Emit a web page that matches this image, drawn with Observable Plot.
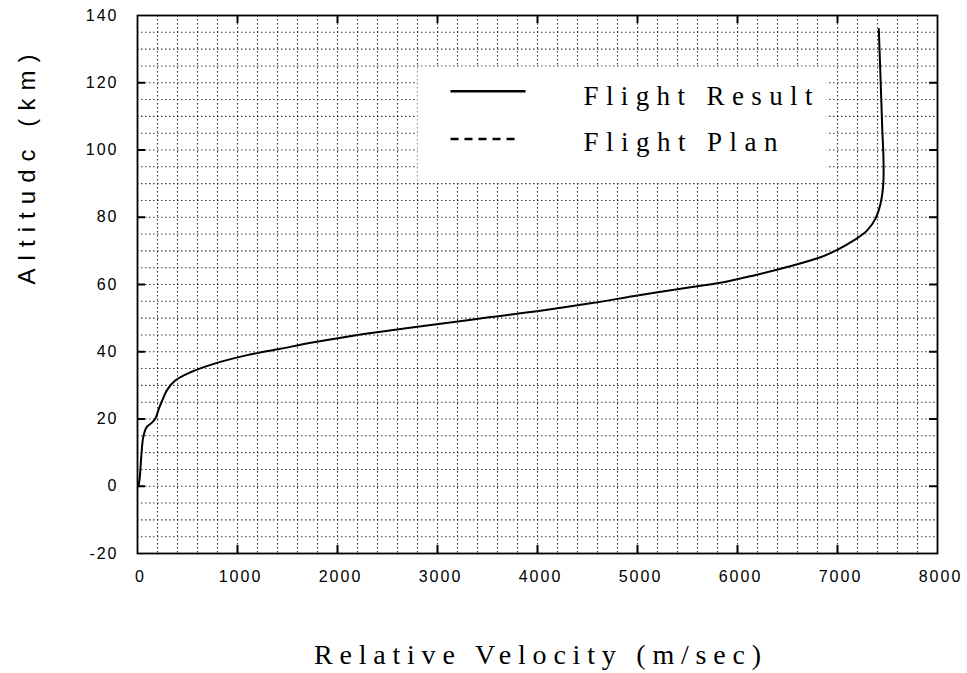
<!DOCTYPE html>
<html>
<head>
<meta charset="utf-8">
<script src="https://cdn.jsdelivr.net/npm/d3@7"></script>
<script src="https://cdn.jsdelivr.net/npm/@observablehq/plot@0.6"></script>
<style>
  html, body { margin: 0; padding: 0; background: #fff; }
</style>
</head>
<body>
<div id="chart"></div>
<script>
// Flight Result: relative velocity (m/sec) vs altitude (km)
const velocity = [10, 23, 37, 57, 90, 147, 180, 213, 247, 300, 380, 530, 763, 1097, 1430, 1763, 2263, 2763, 3030, 3530, 4030, 4530, 5030, 5530, 5830, 6163, 6497, 6830, 6997, 7163, 7297, 7380, 7430, 7458, 7460, 7447, 7430, 7413];
const altitude = [0, 2.7, 8.6, 14.5, 17.5, 19.0, 20.2, 23.0, 25.5, 28.8, 31.5, 33.9, 36.4, 39.0, 40.9, 42.8, 45.3, 47.3, 48.3, 50.3, 52.2, 54.4, 56.9, 59.2, 60.5, 62.7, 65.2, 68.1, 70.3, 73.1, 76.1, 79.6, 84.0, 90.0, 97.0, 106.8, 121.7, 136.0];

const xTicks = [0, 1000, 2000, 3000, 4000, 5000, 6000, 7000, 8000];
const yTicks = [-20, 0, 20, 40, 60, 80, 100, 120, 140];
const xGrid = d3.range(200, 8000, 200);
const yGrid = d3.range(-15, 140, 5);

const xTitle = "Relative Velocity (m/sec)";
const yTitle = "Altitudc (km)";
const legendLabels = ["Flight Result", "Flight Plan"];

const curve = velocity.map((v, i) => ({v, h: altitude[i]}));

const gridStyle = {stroke: "#222", strokeWidth: 1.1, strokeDasharray: "1.5,2.5", strokeOpacity: 0.9};

const svg = Plot.plot({
  width: 967,
  height: 673,
  marginLeft: 137,
  marginRight: 30,
  marginTop: 15,
  marginBottom: 120,
  x: {domain: [0, 8000]},
  y: {domain: [-20, 140]},
  style: {background: "white", color: "black"},
  marks: [
    Plot.ruleX(xGrid, gridStyle),
    Plot.ruleY(yGrid, gridStyle),
    // legend box
    Plot.rect([0], {x1: 2805, x2: 6895, y1: 90.4, y2: 124.6, fill: "white"}),
    Plot.link([0], {x1: 3130, x2: 3880, y1: 117.5, y2: 117.5, stroke: "#000", strokeWidth: 2.5}),
    Plot.link([0], {x1: 3130, x2: 3800, y1: 103.3, y2: 103.3, stroke: "#000", strokeWidth: 2.5, strokeDasharray: "8,6"}),
    Plot.text([legendLabels[0]], {x: 4460, y: 116.0, text: d => d, textAnchor: "start", fontSize: 27, fontFamily: "Liberation Serif", fill: "#000"}),
    Plot.text([legendLabels[1]], {x: 4460, y: 102.2, text: d => d, textAnchor: "start", fontSize: 27, fontFamily: "Liberation Serif", fill: "#000"}),
    // data
    Plot.line(curve, {x: "v", y: "h", stroke: "#000", strokeWidth: 2, curve: "catmull-rom"}),
    // frame and inward ticks
    Plot.frame({stroke: "#000", strokeWidth: 1.8}),
    Plot.ruleX(xTicks.slice(1, -1), {insetTop: 530, stroke: "#000", strokeWidth: 2}),
    Plot.ruleX(xTicks.slice(1, -1), {insetBottom: 530, stroke: "#000", strokeWidth: 2}),
    Plot.ruleY(yTicks.slice(1, -1), {insetRight: 792, stroke: "#000", strokeWidth: 2}),
    Plot.ruleY(yTicks.slice(1, -1), {insetLeft: 792, stroke: "#000", strokeWidth: 2}),
    // axes
    Plot.axisX(xTicks, {anchor: "bottom", tickSize: 0, tickPadding: 17, fontSize: 16, fontFamily: "Liberation Sans", label: null, dx: 3, tickFormat: d => String(d)}),
    Plot.axisY(yTicks, {anchor: "left", tickSize: 0, tickPadding: 19, fontSize: 16, fontFamily: "Liberation Sans", label: null, tickFormat: d => String(d)}),
    // titles
    Plot.text([xTitle], {frameAnchor: "bottom", dy: 110, text: d => d, fontSize: 28, fontFamily: "Liberation Serif", fill: "#000"}),
    Plot.text([yTitle], {frameAnchor: "left", dx: -110, rotate: -90, text: d => d, fontSize: 24, fontFamily: "Liberation Sans", fill: "#000"})
  ]
});

const lengths = {
  [xTitle]: 447,
  [yTitle]: 230,
  [legendLabels[0]]: 229,
  [legendLabels[1]]: 194
};
d3.select(svg).selectAll("text").each(function() {
  const t = this.textContent;
  if (lengths[t]) {
    this.setAttribute("textLength", lengths[t]);
    this.setAttribute("lengthAdjust", "spacing");
  } else if (/^-?\d+$/.test(t)) {
    this.setAttribute("letter-spacing", "2");
  }
});

document.getElementById("chart").appendChild(svg);
</script>
</body>
</html>
